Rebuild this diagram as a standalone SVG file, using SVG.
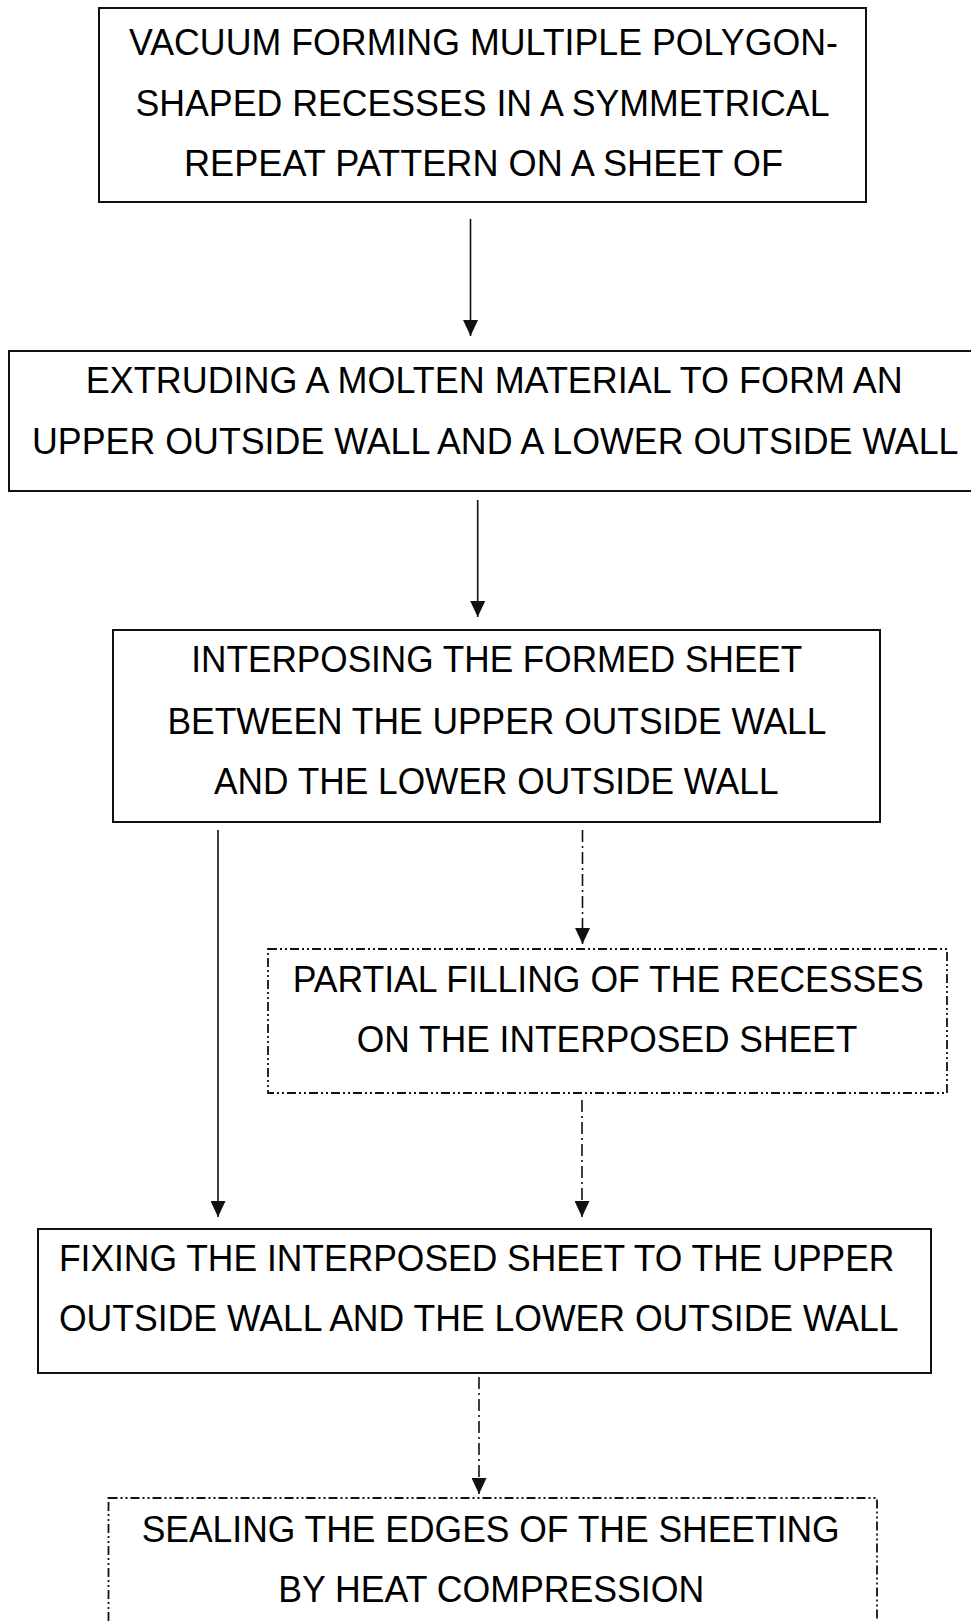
<svg xmlns="http://www.w3.org/2000/svg" width="971" height="1621" viewBox="0 0 971 1621">
<style>
.box{fill:none;stroke:#111;stroke-width:2}
.dbox{fill:none;stroke:#111;stroke-width:1.8;stroke-dasharray:9 3 2 3 2 3}
.t{font-family:"Liberation Sans",Arial,sans-serif;font-size:36.3px;fill:#000}
.c{fill:none;stroke:#111;stroke-width:1.6}
.dc{fill:none;stroke:#111;stroke-width:1.6;stroke-dasharray:12 4 2 4}
</style>
<defs>
<marker id="ah" viewBox="0 0 16 15" refX="16" refY="7.5" markerWidth="16" markerHeight="15" markerUnits="userSpaceOnUse" orient="auto">
<path d="M0,0 L16,7.5 L0,15 z" fill="#111" stroke="none"/>
</marker>
</defs>
<rect width="971" height="1621" fill="#fff"/>
<g id="connectors">
<line class="c" x1="470.5" y1="219" x2="470.5" y2="336" marker-end="url(#ah)"/>
<line class="c" x1="477.7" y1="500" x2="477.7" y2="617" marker-end="url(#ah)"/>
<line class="c" x1="218" y1="830" x2="218" y2="1217" marker-end="url(#ah)"/>
<line class="dc" x1="582.5" y1="830" x2="582.5" y2="944" marker-end="url(#ah)"/>
<line class="dc" x1="582" y1="1100" x2="582" y2="1217" marker-end="url(#ah)"/>
<line class="dc" x1="479" y1="1377" x2="479" y2="1494" marker-end="url(#ah)"/>
</g>
<g id="n1">
<rect class="box" x="99" y="8" width="767" height="194"/>
<text class="t" x="129" y="55" textLength="709" lengthAdjust="spacingAndGlyphs">VACUUM FORMING MULTIPLE POLYGON-</text>
<text class="t" x="135.5" y="115.5" textLength="694" lengthAdjust="spacingAndGlyphs">SHAPED RECESSES IN A SYMMETRICAL</text>
<text class="t" x="184" y="175.5" textLength="599" lengthAdjust="spacingAndGlyphs">REPEAT PATTERN ON A SHEET OF</text>
</g>
<g id="n2">
<rect class="box" x="9" y="351" width="975" height="140"/>
<text class="t" x="85.8" y="393" textLength="817" lengthAdjust="spacingAndGlyphs">EXTRUDING A MOLTEN MATERIAL TO FORM AN</text>
<text class="t" x="32" y="453.5" textLength="926.5" lengthAdjust="spacingAndGlyphs">UPPER OUTSIDE WALL AND A LOWER OUTSIDE WALL</text>
</g>
<g id="n3">
<rect class="box" x="113" y="630" width="767" height="192"/>
<text class="t" x="191.3" y="672" textLength="611" lengthAdjust="spacingAndGlyphs">INTERPOSING THE FORMED SHEET</text>
<text class="t" x="167.5" y="733.5" textLength="659" lengthAdjust="spacingAndGlyphs">BETWEEN THE UPPER OUTSIDE WALL</text>
<text class="t" x="214" y="793.5" textLength="564.6" lengthAdjust="spacingAndGlyphs">AND THE LOWER OUTSIDE WALL</text>
</g>
<g id="n4">
<rect class="dbox" x="268" y="949" width="679" height="144"/>
<text class="t" x="292.7" y="992" textLength="631" lengthAdjust="spacingAndGlyphs">PARTIAL FILLING OF THE RECESSES</text>
<text class="t" x="356.8" y="1052" textLength="500.5" lengthAdjust="spacingAndGlyphs">ON THE INTERPOSED SHEET</text>
</g>
<g id="n5">
<rect class="box" x="38" y="1229" width="893" height="144"/>
<text class="t" x="58.9" y="1271" textLength="835.5" lengthAdjust="spacingAndGlyphs">FIXING THE INTERPOSED SHEET TO THE UPPER</text>
<text class="t" x="58.9" y="1331" textLength="839.7" lengthAdjust="spacingAndGlyphs">OUTSIDE WALL AND THE LOWER OUTSIDE WALL</text>
</g>
<g id="n6">
<rect class="dbox" x="108.5" y="1498" width="768.5" height="140"/>
<text class="t" x="141.7" y="1542" textLength="698" lengthAdjust="spacingAndGlyphs">SEALING THE EDGES OF THE SHEETING</text>
<text class="t" x="278.2" y="1602" textLength="426" lengthAdjust="spacingAndGlyphs">BY HEAT COMPRESSION</text>
</g>
</svg>
